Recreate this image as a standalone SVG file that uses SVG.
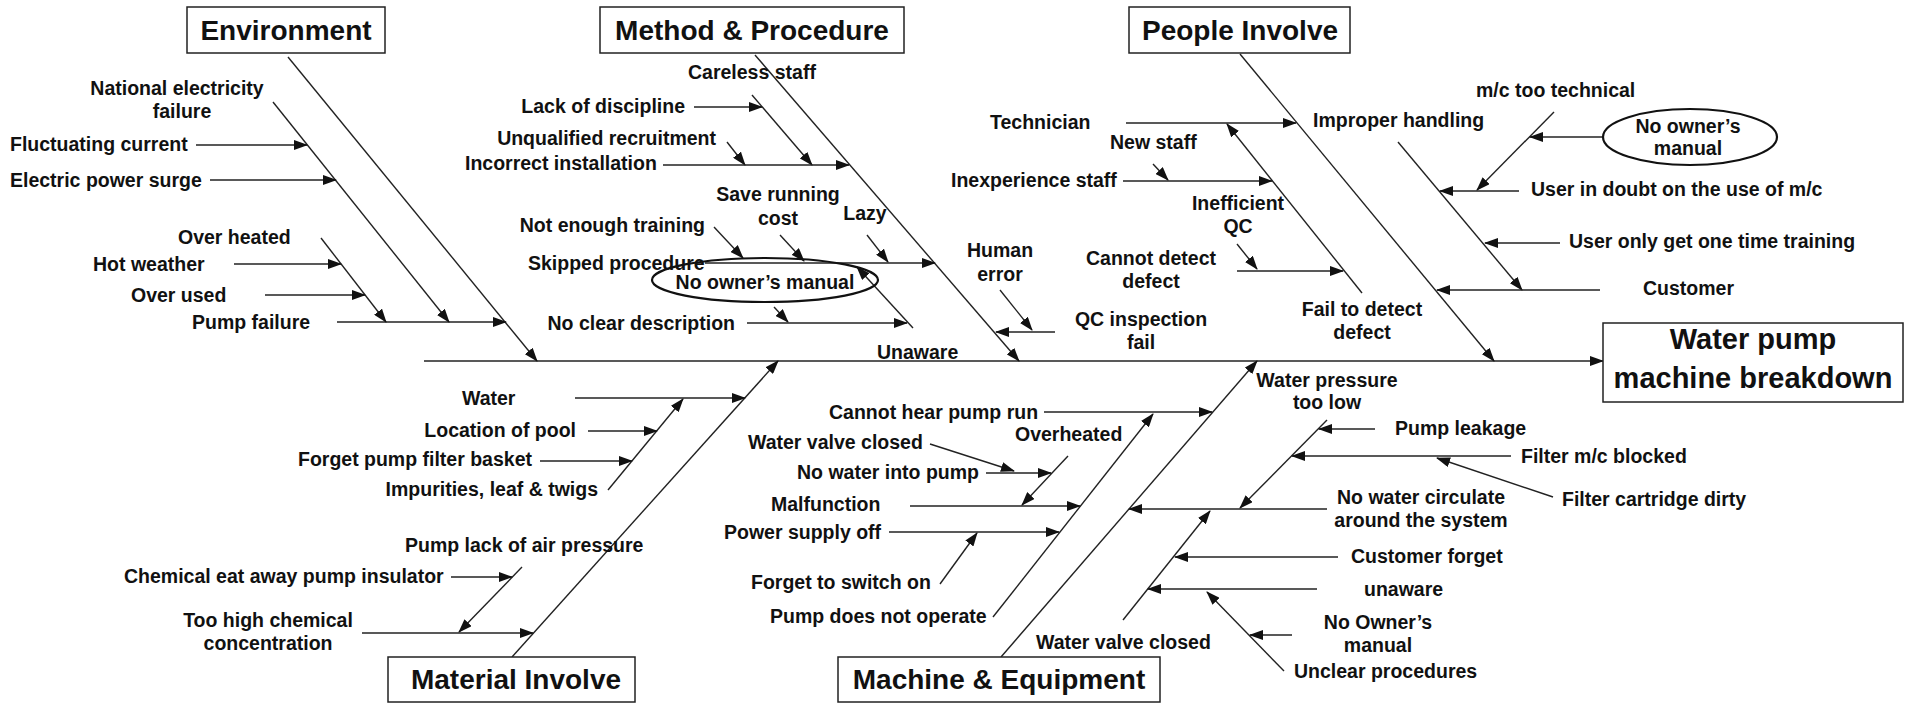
<svg xmlns="http://www.w3.org/2000/svg" width="1909" height="709" viewBox="0 0 1909 709">
<style>
.t{font-family:"Liberation Sans",Arial,sans-serif;font-weight:bold;font-size:19.5px;fill:#111}
.m{text-anchor:middle}
.e{text-anchor:end}
.h{font-family:"Liberation Sans",Arial,sans-serif;font-weight:bold;font-size:28px;fill:#111;text-anchor:middle}
.g{font-family:"Liberation Sans",Arial,sans-serif;font-weight:bold;font-size:29px;fill:#111;text-anchor:middle}
.box{fill:#fff;stroke:#222;stroke-width:1.5}
.ell{fill:none;stroke:#111;stroke-width:2.2}
#conn line{stroke:#222;stroke-width:1.4;marker-end:url(#ah)}
#conn line.n{marker-end:none}
</style>
<defs>
<marker id="ah" markerUnits="userSpaceOnUse" markerWidth="14" markerHeight="10" refX="13" refY="5" orient="auto">
<path d="M0,0 L14,5 L0,10 z" fill="#111"/>
</marker>
</defs>
<rect width="1909" height="709" fill="#fff"/>

<g id="conn">
<!-- spine -->
<line x1="424" y1="361" x2="1603" y2="361"/>
<!-- main bones -->
<line x1="288" y1="57" x2="537" y2="361"/>
<line x1="755" y1="55" x2="1019" y2="361"/>
<line x1="1240" y1="54" x2="1494" y2="361"/>
<line x1="512" y1="657" x2="778" y2="361"/>
<line x1="1001" y1="657" x2="1257" y2="361"/>
<!-- environment -->
<line x1="337" y1="322" x2="506" y2="322"/>
<line x1="273" y1="102" x2="449" y2="322"/>
<line x1="321" y1="238" x2="386" y2="322"/>
<line x1="196" y1="145" x2="307" y2="145"/>
<line x1="210" y1="180" x2="336" y2="180"/>
<line x1="234" y1="264" x2="341" y2="264"/>
<line x1="265" y1="295" x2="365" y2="295"/>
<!-- method -->
<line x1="752" y1="95" x2="812" y2="165"/>
<line x1="694" y1="107" x2="762" y2="107"/>
<line x1="727" y1="142" x2="745" y2="165"/>
<line x1="663" y1="165" x2="849" y2="165"/>
<line x1="705" y1="263" x2="935" y2="263"/>
<line x1="714" y1="227" x2="743" y2="258"/>
<line x1="780" y1="235" x2="804" y2="261"/>
<line x1="867" y1="235" x2="888" y2="262"/>
<line x1="774" y1="307" x2="788" y2="322"/>
<line x1="747" y1="323" x2="907" y2="323"/>
<line x1="913" y1="328" x2="857" y2="267"/>
<line x1="1000" y1="290" x2="1032" y2="330"/>
<line x1="1055" y1="332" x2="996" y2="332"/>
<!-- people -->
<line x1="1126" y1="123" x2="1296" y2="123"/>
<line x1="1362" y1="293" x2="1227" y2="124"/>
<line x1="1123" y1="181" x2="1272" y2="181"/>
<line x1="1153" y1="164" x2="1168" y2="180"/>
<line x1="1237" y1="244" x2="1257" y2="269"/>
<line x1="1237" y1="271" x2="1343" y2="271"/>
<line x1="1398" y1="142" x2="1522" y2="290"/>
<line x1="1519" y1="191" x2="1440" y2="191"/>
<line x1="1554" y1="112" x2="1477" y2="190"/>
<line x1="1603" y1="137" x2="1530" y2="137"/>
<line x1="1560" y1="243" x2="1485" y2="243"/>
<line x1="1600" y1="290" x2="1437" y2="290"/>
<!-- material -->
<line x1="575" y1="398" x2="745" y2="398"/>
<line x1="608" y1="490" x2="683" y2="399"/>
<line x1="588" y1="431" x2="657" y2="431"/>
<line x1="540" y1="461" x2="632" y2="461"/>
<line x1="522" y1="567" x2="459" y2="632"/>
<line x1="451" y1="577" x2="512" y2="577"/>
<line x1="362" y1="633" x2="533" y2="633"/>
<!-- machine -->
<line x1="1044" y1="412" x2="1212" y2="412"/>
<line x1="993" y1="617" x2="1153" y2="414"/>
<line x1="910" y1="506" x2="1080" y2="506"/>
<line x1="889" y1="532" x2="1059" y2="532"/>
<line x1="940" y1="584" x2="977" y2="533"/>
<line x1="1068" y1="456" x2="1022" y2="505"/>
<line x1="986" y1="473" x2="1051" y2="473"/>
<line x1="930" y1="444" x2="1014" y2="471"/>
<line x1="1327" y1="420" x2="1240" y2="508"/>
<line x1="1375" y1="429" x2="1319" y2="429"/>
<line x1="1511" y1="456" x2="1292" y2="456"/>
<line x1="1553" y1="497" x2="1437" y2="458"/>
<line x1="1327" y1="509" x2="1129" y2="509"/>
<line x1="1123" y1="620" x2="1210" y2="511"/>
<line x1="1338" y1="557" x2="1175" y2="557"/>
<line x1="1317" y1="589" x2="1148" y2="589"/>
<line x1="1284" y1="671" x2="1207" y2="592"/>
<line x1="1292" y1="635" x2="1250" y2="635"/>
</g>

<!-- category boxes and effect -->
<g id="n-environment"><rect class="box" x="187" y="7" width="198" height="46"/><text class="h" x="286" y="40">Environment</text></g>
<g id="n-method"><rect class="box" x="600" y="7" width="304" height="46"/><text class="h" x="752" y="40">Method &amp; Procedure</text></g>
<g id="n-people"><rect class="box" x="1129" y="7" width="221" height="46"/><text class="h" x="1240" y="40">People Involve</text></g>
<g id="n-material"><rect class="box" x="388" y="657" width="247" height="45"/><text class="h" x="516" y="689">Material Involve</text></g>
<g id="n-machine"><rect class="box" x="838" y="657" width="322" height="45"/><text class="h" x="999" y="689">Machine &amp; Equipment</text></g>
<g id="n-effect"><rect class="box" x="1603" y="323" width="300" height="79"/><text class="g" x="1753" y="349">Water pump</text><text class="g" x="1753" y="388">machine breakdown</text></g>

<!-- environment labels -->
<g id="n-national"><text class="t m" x="177" y="95">National electricity</text><text class="t m" x="182" y="118">failure</text></g>
<g id="n-fluct"><text class="t" x="10" y="151">Fluctuating current</text></g>
<g id="n-surge"><text class="t" x="10" y="187">Electric power surge</text></g>
<g id="n-overheated"><text class="t" x="178" y="244">Over heated</text></g>
<g id="n-hot"><text class="t" x="93" y="271">Hot weather</text></g>
<g id="n-overused"><text class="t" x="131" y="302">Over used</text></g>
<g id="n-pumpfail"><text class="t" x="192" y="329">Pump failure</text></g>

<!-- method labels -->
<g id="n-careless"><text class="t" x="688" y="79">Careless staff</text></g>
<g id="n-lack"><text class="t e" x="685" y="113">Lack of discipline</text></g>
<g id="n-unqual"><text class="t e" x="716" y="145">Unqualified recruitment</text></g>
<g id="n-incorrect"><text class="t" x="465" y="170">Incorrect installation</text></g>
<g id="n-saverun"><text class="t m" x="778" y="201">Save running</text><text class="t m" x="778" y="225">cost</text></g>
<g id="n-lazy"><text class="t m" x="865" y="220">Lazy</text></g>
<g id="n-notenough"><text class="t e" x="705" y="232">Not enough training</text></g>
<g id="n-skipped"><text class="t" x="528" y="270">Skipped procedure</text></g>
<g id="n-noowner1"><ellipse class="ell" cx="765" cy="280" rx="113" ry="22"/><text class="t m" x="765" y="289">No owner’s manual</text></g>
<g id="n-noclear"><text class="t e" x="735" y="330">No clear description</text></g>
<g id="n-unaware1"><text class="t" x="877" y="359">Unaware</text></g>
<g id="n-human"><text class="t m" x="1000" y="257">Human</text><text class="t m" x="1000" y="281">error</text></g>
<g id="n-qcinsp"><text class="t m" x="1141" y="326">QC inspection</text><text class="t m" x="1141" y="349">fail</text></g>

<!-- people labels -->
<g id="n-tech"><text class="t" x="990" y="129">Technician</text></g>
<g id="n-newstaff"><text class="t" x="1110" y="149">New staff</text></g>
<g id="n-inexp"><text class="t" x="951" y="187">Inexperience staff</text></g>
<g id="n-ineffqc"><text class="t m" x="1238" y="210">Inefficient</text><text class="t m" x="1238" y="233">QC</text></g>
<g id="n-cannotdetect"><text class="t m" x="1151" y="265">Cannot detect</text><text class="t m" x="1151" y="288">defect</text></g>
<g id="n-failtodetect"><text class="t m" x="1362" y="316">Fail to detect</text><text class="t m" x="1362" y="339">defect</text></g>
<g id="n-improper"><text class="t" x="1313" y="127">Improper handling</text></g>
<g id="n-mctech"><text class="t" x="1476" y="97">m/c too technical</text></g>
<g id="n-noowner2"><ellipse class="ell" cx="1690" cy="137" rx="87" ry="28"/><text class="t m" x="1688" y="133">No owner’s</text><text class="t m" x="1688" y="155">manual</text></g>
<g id="n-userdoubt"><text class="t" x="1531" y="196">User in doubt on the use of m/c</text></g>
<g id="n-useronly"><text class="t" x="1569" y="248">User only get one time training</text></g>
<g id="n-customer"><text class="t" x="1643" y="295">Customer</text></g>

<!-- material labels -->
<g id="n-water"><text class="t" x="462" y="405">Water</text></g>
<g id="n-location"><text class="t e" x="576" y="437">Location of pool</text></g>
<g id="n-forgetbasket"><text class="t e" x="532" y="466">Forget pump filter basket</text></g>
<g id="n-impurities"><text class="t e" x="598" y="496">Impurities, leaf &amp; twigs</text></g>
<g id="n-airpress"><text class="t" x="405" y="552">Pump lack of air pressure</text></g>
<g id="n-chemeat"><text class="t" x="124" y="583">Chemical eat away pump insulator</text></g>
<g id="n-toohigh"><text class="t m" x="268" y="627">Too high chemical</text><text class="t m" x="268" y="650">concentration</text></g>

<!-- machine labels -->
<g id="n-cannothear"><text class="t" x="829" y="419">Cannot hear pump run</text></g>
<g id="n-overheated2"><text class="t" x="1015" y="441">Overheated</text></g>
<g id="n-valve1"><text class="t" x="748" y="449">Water valve closed</text></g>
<g id="n-nowater"><text class="t" x="797" y="479">No water into pump</text></g>
<g id="n-malfunction"><text class="t" x="771" y="511">Malfunction</text></g>
<g id="n-powersupply"><text class="t" x="724" y="539">Power supply off</text></g>
<g id="n-forgetswitch"><text class="t" x="751" y="589">Forget to switch on</text></g>
<g id="n-notoperate"><text class="t" x="770" y="623">Pump does not operate</text></g>
<g id="n-waterpress"><text class="t m" x="1327" y="387">Water pressure</text><text class="t m" x="1327" y="409">too low</text></g>
<g id="n-leakage"><text class="t" x="1395" y="435">Pump leakage</text></g>
<g id="n-filterblocked"><text class="t" x="1521" y="463">Filter m/c blocked</text></g>
<g id="n-cartridge"><text class="t" x="1562" y="506">Filter cartridge dirty</text></g>
<g id="n-nocirc"><text class="t m" x="1421" y="504">No water circulate</text><text class="t m" x="1421" y="527">around the system</text></g>
<g id="n-custforget"><text class="t" x="1351" y="563">Customer forget</text></g>
<g id="n-unaware2"><text class="t" x="1364" y="596">unaware</text></g>
<g id="n-noowner3"><text class="t m" x="1378" y="629">No Owner’s</text><text class="t m" x="1378" y="652">manual</text></g>
<g id="n-valve2"><text class="t" x="1036" y="649">Water valve closed</text></g>
<g id="n-unclear"><text class="t" x="1294" y="678">Unclear procedures</text></g>
</svg>
